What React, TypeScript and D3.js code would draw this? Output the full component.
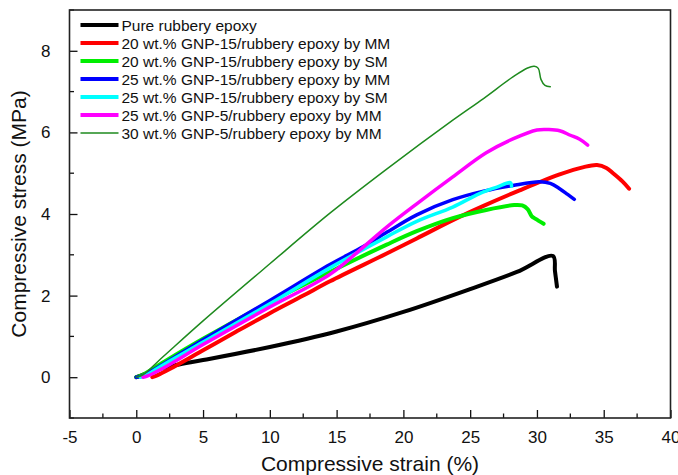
import * as d3 from "d3";
import { useEffect, useRef } from "react";

// strain (%), stress (MPa) pairs
const pureEpoxy = [
  [0, 0], [0.5, 0.06], [1.5, 0.18], [3, 0.3], [5, 0.42], [10, 0.74], [15, 1.12],
  [20, 1.6], [25, 2.16], [28.5, 2.58], [31.2, 2.97], [31.35, 2.6], [31.5, 2.22],
];
const gnp15Mm20 = [
  [1.2, 0], [1.6, 0.05], [2.5, 0.2], [5, 0.66], [7.5, 1.12], [10, 1.57], [12.5, 2.0],
  [14.5, 2.35], [18.75, 3.03], [21, 3.4], [23.7, 3.85], [26, 4.2], [28.7, 4.58],
  [31.7, 4.97], [33.5, 5.15], [34.5, 5.2], [35.2, 5.13], [35.7, 5.0], [36.4, 4.8], [36.9, 4.62],
];
const gnp15Sm20 = [
  [0, 0], [0.5, 0.06], [2, 0.36], [5, 0.94], [10, 1.84], [14.5, 2.58], [18.75, 3.25],
  [21, 3.58], [23.7, 3.9], [26.2, 4.1], [28.3, 4.22], [28.9, 4.21], [29.3, 4.12],
  [29.6, 3.95], [29.9, 3.88], [30.5, 3.76],
];
const gnp15Mm25 = [
  [0, 0], [0.5, 0.04], [2, 0.32], [5, 0.92], [10, 1.88], [14.5, 2.76], [17, 3.2],
  [18.75, 3.55], [21, 3.98], [23.7, 4.35], [26, 4.56], [28.2, 4.7], [30.2, 4.79],
  [31, 4.75], [31.7, 4.62], [32.3, 4.48], [32.8, 4.36],
];
const gnp15Sm25 = [
  [0.3, 0], [0.7, 0.04], [2, 0.3], [5, 0.86], [10, 1.8], [14.5, 2.68], [18.75, 3.44],
  [21, 3.82], [23.7, 4.17], [25.7, 4.5], [27, 4.66], [28, 4.77], [28.1, 4.68],
];
const gnp5Mm25 = [
  [0.5, 0], [0.9, 0.04], [2, 0.22], [5, 0.8], [10, 1.72], [14.5, 2.52], [17, 3.19],
  [18.75, 3.68], [21, 4.25], [23.7, 4.91], [26.2, 5.5], [28.2, 5.84], [30, 6.06],
  [30.9, 6.07], [31.7, 6.04], [32.5, 5.93], [33.2, 5.83], [33.8, 5.69],
];
const gnp5Mm30 = [
  [0, 0], [0.5, 0.06], [2, 0.5], [5, 1.38], [10, 2.78], [14.5, 4.02], [18.75, 5.1],
  [23.7, 6.3], [26, 6.83], [28.2, 7.36], [29.3, 7.58], [29.8, 7.62], [30.1, 7.57],
  [30.3, 7.3], [30.6, 7.15], [31, 7.12],
];

const seriesNames = [
  "Pure rubbery epoxy",
  "20 wt.% GNP-15/rubbery epoxy by MM",
  "20 wt.% GNP-15/rubbery epoxy by SM",
  "25 wt.% GNP-15/rubbery epoxy by MM",
  "25 wt.% GNP-15/rubbery epoxy by SM",
  "25 wt.% GNP-5/rubbery epoxy by MM",
  "30 wt.% GNP-5/rubbery epoxy by MM",
];
const seriesColors = ["#000000", "#ff0000", "#00ee00", "#0000ff", "#00ffff", "#ff00ff", "#1e8a1e"];
const seriesWidths = [4, 4, 4, 3.5, 3.5, 3.5, 1.5];
const seriesData = [pureEpoxy, gnp15Mm20, gnp15Sm20, gnp15Mm25, gnp15Sm25, gnp5Mm25, gnp5Mm30];

const xTicks = [-5, 0, 5, 10, 15, 20, 25, 30, 35, 40];
const yTicks = [0, 2, 4, 6, 8];

export default function App() {
  const ref = useRef<SVGSVGElement>(null);

  useEffect(() => {
    const width = 678;
    const height = 475;
    const margin = { top: 10, right: 7.5, bottom: 57, left: 69.5 };
    const innerW = width - margin.left - margin.right;
    const innerH = height - margin.top - margin.bottom;

    const svg = d3.select(ref.current);
    svg.selectAll("*").remove();

    const g = svg
      .append("g")
      .attr("transform", `translate(${margin.left},${margin.top})`)
      .style("font-family", "'Liberation Sans', Arial, sans-serif");

    const xScale = d3.scaleLinear().domain([-5, 40]).range([0, innerW]);
    const yScale = d3.scaleLinear().domain([-1, 9]).range([innerH, 0]);

    // bottom axis, ticks pointing inward
    const xAxis = g
      .append("g")
      .attr("transform", `translate(0,${innerH})`)
      .call(d3.axisBottom(xScale).tickValues(xTicks).tickSize(-8).tickPadding(13).tickFormat((d) => String(d)));
    xAxis.select(".domain").remove();
    xAxis.selectAll("text").style("font-size", "17px").attr("fill", "#111");
    xAxis.selectAll("line").attr("stroke", "#111").attr("stroke-width", 1.3);

    // minor x ticks
    g.append("g")
      .selectAll("line")
      .data(d3.range(-2.5, 40, 5))
      .join("line")
      .attr("x1", (d) => xScale(d))
      .attr("x2", (d) => xScale(d))
      .attr("y1", innerH)
      .attr("y2", innerH - 4.5)
      .attr("stroke", "#111")
      .attr("stroke-width", 1.3);

    // left axis
    const yAxis = g
      .append("g")
      .call(d3.axisLeft(yScale).tickValues(yTicks).tickSize(-8).tickPadding(19).tickFormat((d) => String(d)));
    yAxis.select(".domain").remove();
    yAxis.selectAll("text").style("font-size", "17px").attr("fill", "#111");
    yAxis.selectAll("line").attr("stroke", "#111").attr("stroke-width", 1.3);

    g.append("g")
      .selectAll("line")
      .data([-1, 1, 3, 5, 7, 9])
      .join("line")
      .attr("x1", 0)
      .attr("x2", 4.5)
      .attr("y1", (d) => yScale(d))
      .attr("y2", (d) => yScale(d))
      .attr("stroke", "#111")
      .attr("stroke-width", 1.3);

    // frame
    g.append("rect")
      .attr("width", innerW)
      .attr("height", innerH)
      .attr("fill", "none")
      .attr("stroke", "#222")
      .attr("stroke-width", 1.6);

    const line = d3
      .line<number[]>()
      .x((d) => xScale(d[0]))
      .y((d) => yScale(d[1]))
      .curve(d3.curveCatmullRom.alpha(0.5));

    seriesData.forEach((data, i) => {
      g.append("path")
        .datum(data)
        .attr("fill", "none")
        .attr("stroke", seriesColors[i])
        .attr("stroke-width", seriesWidths[i])
        .attr("stroke-linejoin", "round")
        .attr("stroke-linecap", "round")
        .attr("d", line);
    });

    // legend
    const legend = g.append("g").attr("transform", "translate(11,15)");
    seriesNames.forEach((name, i) => {
      const row = legend.append("g").attr("transform", `translate(0,${i * 18})`);
      row.append("line")
        .attr("x1", 0)
        .attr("x2", 38)
        .attr("stroke", seriesColors[i])
        .attr("stroke-width", i === 6 ? 1.5 : 4);
      row.append("text")
        .attr("x", 41)
        .attr("y", 5.5)
        .style("font-size", "15.5px")
        .attr("fill", "#111")
        .text(name);
    });

    // axis titles
    svg.append("text")
      .attr("x", margin.left + innerW / 2)
      .attr("y", 471)
      .attr("text-anchor", "middle")
      .style("font-family", "'Liberation Sans', Arial, sans-serif")
      .style("font-size", "21px")
      .attr("fill", "#111")
      .text("Compressive strain (%)");

    svg.append("text")
      .attr("transform", `translate(26,${margin.top + innerH / 2}) rotate(-90)`)
      .attr("text-anchor", "middle")
      .style("font-family", "'Liberation Sans', Arial, sans-serif")
      .style("font-size", "21px")
      .attr("fill", "#111")
      .text("Compressive stress (MPa)");
  }, []);

  return (
    <svg
      ref={ref}
      width={678}
      height={475}
      style={{ position: "absolute", left: 0, top: 0, background: "#fff" }}
    />
  );
}
